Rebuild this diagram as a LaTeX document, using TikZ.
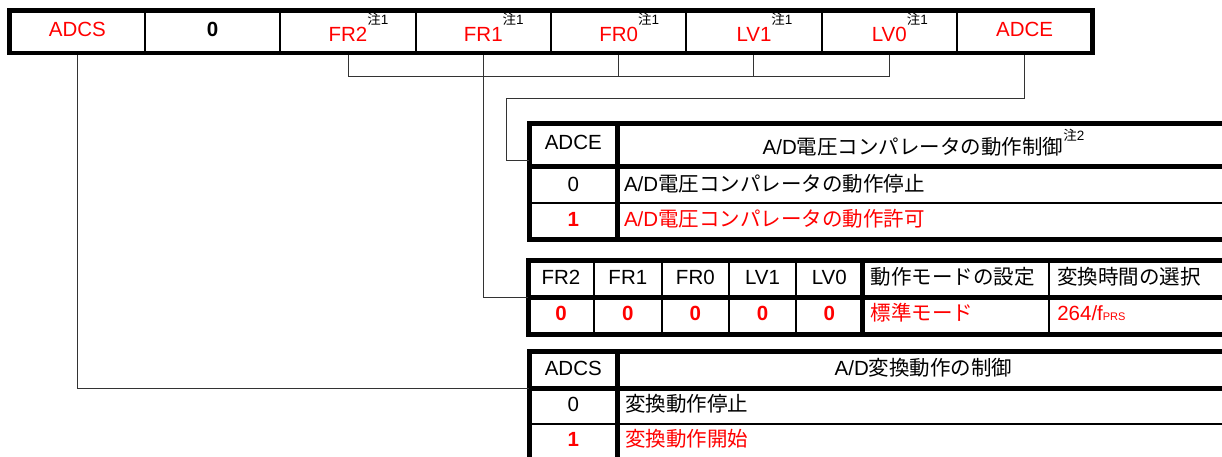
\documentclass[tikz,border=0pt]{standalone}
\usepackage{fontspec}
\setmainfont{Liberation Sans}
\newfontfamily\jp{Noto Sans CJK JP}
\usetikzlibrary{calc}
\definecolor{regred}{RGB}{255,0,0}
\newcommand\noteone{\rlap{\raisebox{16.3pt}{\color{black}\fontsize{13.5}{13}\selectfont{\jp 注}1}}}
\newcommand\notetwo{\raisebox{13.6pt}{\fontsize{13.5}{13}\selectfont{\jp 注}2}}
\begin{document}
\begin{tikzpicture}[x=1pt,y=-1pt,
  every node/.style={inner sep=0pt, outer sep=0pt, font=\fontsize{20.5}{24}\selectfont, text depth=0pt},
  bold/.style={font=\fontsize{20.5}{24}\selectfont\bfseries},
  red/.style={text=regred},
  regcell/.style={draw, line width=2pt, minimum width=135.325pt, minimum height=42.7pt, anchor=center},
  tcell/.style={draw, line width=2pt, anchor=center},
  thick border/.style={line width=5pt},
  conn/.style={draw=black!80, line width=1pt},
]
\useasboundingbox (0,0) rectangle (1222,457);
\clip (0,0) rectangle (1222,457);

% ---------- Table 1 (ADCE) ----------
\node[tcell, minimum width=88.5pt, minimum height=42.7pt, text height=8.3pt] (t1h1) at (573.25,145.35) {ADCE};
\node[tcell, minimum width=612pt, minimum height=42.7pt, text height=17.9pt] (t1h2) at (923.5,145.35) {A/D{\jp 電圧コンパレータの動作制御}\notetwo};
\node[tcell, minimum width=88.5pt, minimum height=36pt, text height=13.2pt] (t1a1) at (573.25,184.7) {0};
\node[tcell, minimum width=612pt, minimum height=36pt, text width=599pt, inner xsep=6.5pt, align=left, text height=13.2pt] (t1a2) at (923.5,184.7) {A/D{\jp 電圧コンパレータの動作停止}};
\node[tcell, bold, red, minimum width=88.5pt, minimum height=37pt, text height=10.6pt] (t1b1) at (573.25,221.2) {1};
\node[tcell, red, minimum width=612pt, minimum height=37pt, text width=599pt, inner xsep=6.5pt, align=left, text height=10.6pt] (t1b2) at (923.5,221.2) {A/D{\jp 電圧コンパレータの動作許可}};
\draw[thick border] (t1h1.north west) rectangle (t1b2.south east);
\draw[thick border] (t1h1.south west) -- (t1h2.south east);
\draw[thick border] (t1h1.north east) -- (t1b1.south east);

% ---------- Table 2 (FR/LV) ----------
\node[tcell, minimum width=66pt, minimum height=37pt, text height=11pt] (t2h1) at (561,278.5) {FR2};
\node[tcell, minimum width=67.7pt, minimum height=37pt, text height=11pt] (t2h2) at (627.85,278.5) {FR1};
\node[tcell, minimum width=67.3pt, minimum height=37pt, text height=11pt] (t2h3) at (695.35,278.5) {FR0};
\node[tcell, minimum width=67pt, minimum height=37pt, text height=11pt] (t2h4) at (762.5,278.5) {LV1};
\node[tcell, minimum width=66.5pt, minimum height=37pt, text height=11pt] (t2h5) at (829.25,278.5) {LV0};
\node[tcell, minimum width=186.8pt, minimum height=37pt, text width=170.8pt, inner xsep=8pt, align=left, text height=11pt] (t2h6) at (955.9,278.5) {\jp 動作モードの設定};
\node[tcell, minimum width=180.2pt, minimum height=37pt, text width=164.2pt, inner xsep=8pt, align=left, text height=11pt] (t2h7) at (1139.4,278.5) {\jp 変換時間の選択};
\node[tcell, bold, red, minimum width=66pt, minimum height=37pt, text height=10pt] (t2v1) at (561,315.5) {0};
\node[tcell, bold, red, minimum width=67.7pt, minimum height=37pt, text height=10pt] (t2v2) at (627.85,315.5) {0};
\node[tcell, bold, red, minimum width=67.3pt, minimum height=37pt, text height=10pt] (t2v3) at (695.35,315.5) {0};
\node[tcell, bold, red, minimum width=67pt, minimum height=37pt, text height=10pt] (t2v4) at (762.5,315.5) {0};
\node[tcell, bold, red, minimum width=66.5pt, minimum height=37pt, text height=10pt] (t2v5) at (829.25,315.5) {0};
\node[tcell, red, minimum width=186.8pt, minimum height=37pt, text width=170.8pt, inner xsep=8pt, align=left, text height=10pt] (t2v6) at (955.9,315.5) {\jp 標準モード};
\node[tcell, red, minimum width=180.2pt, minimum height=37pt, text width=164.2pt, inner xsep=8pt, align=left, text height=10pt] (t2v7) at (1139.4,315.5) {264/f{\fontsize{11}{11}\selectfont PRS}};
\draw[thick border] (t2h1.north west) rectangle (t2v7.south east);
\draw[thick border] (t2h1.south west) -- (t2h7.south east);
\draw[thick border] (t2h5.north east) -- (t2v5.south east);

% ---------- Table 3 (ADCS) ----------
\node[tcell, minimum width=88.5pt, minimum height=37.5pt, text height=10.5pt] (t3h1) at (573.25,369.75) {ADCS};
\node[tcell, minimum width=612pt, minimum height=37.5pt, text height=10.5pt] (t3h2) at (923.5,369.75) {A/D{\jp 変換動作の制御}};
\node[tcell, minimum width=88.5pt, minimum height=35.5pt, text height=10.5pt] (t3a1) at (573.25,406.25) {0};
\node[tcell, minimum width=612pt, minimum height=35.5pt, text width=597pt, inner xsep=7.5pt, align=left, text height=10.5pt] (t3a2) at (923.5,406.25) {\jp 変換動作停止};
\node[tcell, bold, red, minimum width=88.5pt, minimum height=37pt, text height=8pt] (t3b1) at (573.25,442.5) {1};
\node[tcell, red, minimum width=612pt, minimum height=37pt, text width=597pt, inner xsep=7.5pt, align=left, text height=8pt] (t3b2) at (923.5,442.5) {\jp 変換動作開始};
\draw[thick border] (t3h1.north west) rectangle (t3b2.south east);
\draw[thick border] (t3h1.south west) -- (t3h2.south east);
\draw[thick border] (t3h1.north east) -- (t3b1.south east);

% ---------- Register ----------
\node[regcell, red, text height=10.7pt] (rADCS) at (77.36,31.65) {ADCS};
\node[regcell, bold, text height=10.7pt] (r0) at (212.69,31.65) {0};
\node[regcell, red, text height=19.3pt] (rFR2) at (348.0,31.65) {FR2\noteone};
\node[regcell, red, text height=19.3pt] (rFR1) at (483.33,31.65) {FR1\noteone};
\node[regcell, red, text height=19.3pt] (rFR0) at (618.65,31.65) {FR0\noteone};
\node[regcell, red, text height=19.3pt] (rLV1) at (753.98,31.65) {LV1\noteone};
\node[regcell, red, text height=19.3pt] (rLV0) at (889.3,31.65) {LV0\noteone};
\node[regcell, red, text height=10.7pt] (rADCE) at (1024.63,31.65) {ADCE};

% ---------- Connectors ----------
\coordinate (frBus) at (348,76.3);
\coordinate (adceJog) at (506,99);
\draw[conn] (rFR2.south) |- (rLV0.south |- frBus) -- (rLV0.south);
\draw[conn] (rFR0.south) -- (rFR0.south |- frBus);
\draw[conn] (rLV1.south) -- (rLV1.south |- frBus);
\draw[conn] (rFR1.south) |- (t2h1.south west);
\draw[conn] (rADCS.south) |- (t3h1.south west);
\draw[conn] (rADCE.south) |- (adceJog) |- ($(t1h1.south west)+(0,-6.5)$);

\draw[line width=4.5pt] (rADCS.north west) rectangle (rADCE.south east);
\end{tikzpicture}
\end{document}
